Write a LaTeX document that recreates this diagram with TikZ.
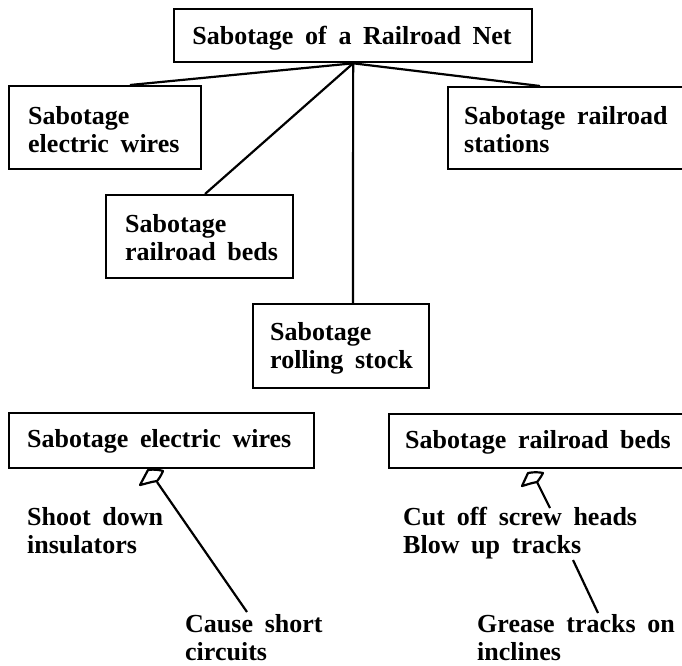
\documentclass[tikz,border=0pt]{standalone}
\usepackage{fontspec}
\setmainfont{Liberation Serif}[WordSpace=1.8]
\begin{document}
\begin{tikzpicture}[x=1pt,y=1pt,
  box/.style={draw, line width=2.3pt, rectangle, inner sep=0pt, anchor=north west},
  txt/.style={anchor=base west, inner sep=0pt, align=left, font=\fontsize{26}{28}\selectfont\bfseries},
  link/.style={line width=2.2pt},
  pen/.style={line width=2.2pt, line join=round}]
\useasboundingbox (0,0) rectangle (682,-665);
\clip (0,0) rectangle (682,-665);
% top level (multi-line text nodes are placed by the baseline of their last line)
\node[box, minimum width=358, minimum height=53] (root) at (173,-8) {};
\node[txt, anchor=base] (rootT) at (352,-44) {Sabotage of a Railroad Net};
\node[box, minimum width=192, minimum height=83] (ew) at (8,-85) {};
\node[txt] (ewT) at (28,-152) {Sabotage\\electric wires};
\node[box, minimum width=260, minimum height=82] (st) at (447,-86) {};
\node[txt] (stT) at (464,-152) {Sabotage railroad\\stations};
\node[box, minimum width=187, minimum height=83] (rb) at (105,-194) {};
\node[txt] (rbT) at (125,-260) {Sabotage\\railroad beds};
\node[box, minimum width=176, minimum height=84] (rs) at (252,-303) {};
\node[txt] (rsT) at (270,-368) {Sabotage\\rolling stock};
\coordinate (C) at (root.south);
\draw[link] (C) -- ([xshift=122]ew.north west);
\draw[link] (C) -- ([xshift=93]st.north west);
\draw[link] (C) -- ([xshift=100]rb.north west);
\draw[link] (C) -- ([xshift=101]rs.north west);
% lower part
\node[box, minimum width=305, minimum height=55] (ew2) at (8,-412) {};
\node[txt] (ew2T) at (27,-447) {Sabotage electric wires};
\node[box, minimum width=320, minimum height=54] (rb2) at (388,-413) {};
\node[txt] (rb2T) at (405,-448) {Sabotage railroad beds};
\node[txt] (sd) at (27,-553) {Shoot down\\insulators};
\node[txt] (cs) at (185,-660) {Cause short\\circuits};
\node[txt] (co) at (403,-553) {Cut off screw heads\\Blow up tracks};
\node[txt] (gr) at (477,-660) {Grease tracks on\\inclines};
% pen marks
\draw[pen] (140,-485) -- (148,-470) .. controls (154,-469) and (160,-470) .. (163,-471)
  .. controls (161,-476) and (158,-480) .. (157,-481) .. controls (150,-482) and (145,-484) .. cycle;
\coordinate (p1) at (157,-482);
\coordinate (q1) at (247,-612);
\draw[link] (p1) -- (q1);
\draw[pen] (522,-486) -- (528,-473) .. controls (533,-472) and (539,-472) .. (543,-473)
  .. controls (541,-477) and (538,-481) .. (537,-482) .. controls (531,-483) and (526,-485) .. cycle;
\coordinate (p2) at (537,-482);
\coordinate (q2) at (550,-508);
\draw[link] (p2) -- (q2);
\coordinate (p3) at (573,-560);
\coordinate (q3) at (598,-613);
\draw[link] (p3) -- (q3);
\end{tikzpicture}
\end{document}
